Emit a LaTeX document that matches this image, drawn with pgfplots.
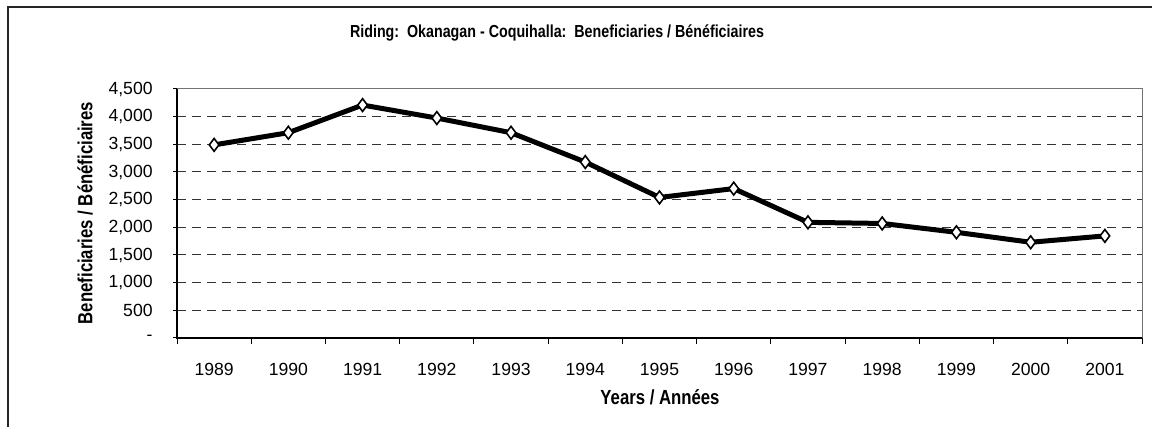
\documentclass[border=0pt]{standalone}
\usepackage{fontspec}
\setmainfont{Liberation Sans}
\newfontfamily\narrow[FakeStretch=0.82]{Liberation Sans}
\usepackage{pgfplots}
\pgfplotsset{compat=1.18}
\begin{document}
\begin{tikzpicture}
\path[use as bounding box] (0,0) rectangle (576pt,213.5pt);
\draw[line width=0.75pt, black!85] (4pt,0) -- (4pt,210pt) -- (576pt,210pt);
\node[font=\narrow\bfseries\fontsize{8.7pt}{10pt}\selectfont] at (278.5pt,197pt) {Riding:\ \ Okanagan - Coquihalla:\ \ Beneficiaries / Bénéficiaires};
\node[font=\narrow\bfseries\fontsize{10.2pt}{12pt}\selectfont, rotate=90] at (42.5pt,107pt) {Beneficiaries / Bénéficiaires};
\node[font=\narrow\bfseries\fontsize{10.2pt}{12pt}\selectfont] at (330pt,15pt) {Years / Années};
\begin{axis}[
  at={(88.5pt,44.5pt)}, anchor=south west, scale only axis,
  width=482.5pt, height=124.5pt,
  xmin=-0.5, xmax=12.5, ymin=0, ymax=4500,
  xtick={0,...,12},
  xticklabels={1989,1990,1991,1992,1993,1994,1995,1996,1997,1998,1999,2000,2001},
  minor xtick={-0.5,0.5,...,12.5},
  ytick={0,500,...,4500},
  yticklabels={-,500,{1,000},{1,500},{2,000},{2,500},{3,000},{3,500},{4,000},{4,500}},
  tick align=outside, xtick pos=left, ytick pos=left,
  major tick length=2pt, minor tick length=3pt,
  major x tick style={draw=none},
  tick style={black, line width=0.5pt},
  ymajorgrids,
  major grid style={black!80, line width=0.5pt, dash pattern=on 4.5pt off 3pt},
  axis line style={black!55, line width=0.5pt},
  tick label style={font=\fontsize{8.8pt}{10pt}\selectfont},
  xticklabel style={anchor=center, yshift=-13.5pt},
  yticklabel style={anchor=east, inner sep=0pt, xshift=-10pt},
  clip=false,
]
\addplot[black, line width=2.5pt, mark=diamond*, mark size=3.2pt,
  mark options={solid, fill=white, draw=black, line width=0.8pt}]
  coordinates {
  (0,3490) (1,3710) (2,4210) (3,3975) (4,3710) (5,3180) (6,2540)
  (7,2700) (8,2090) (9,2070) (10,1910) (11,1730) (12,1845)
  };
\draw[black, line width=0.75pt] (rel axis cs:0,1) -- (rel axis cs:0,0) -- (rel axis cs:1,0);
\end{axis}
\end{tikzpicture}
\end{document}
